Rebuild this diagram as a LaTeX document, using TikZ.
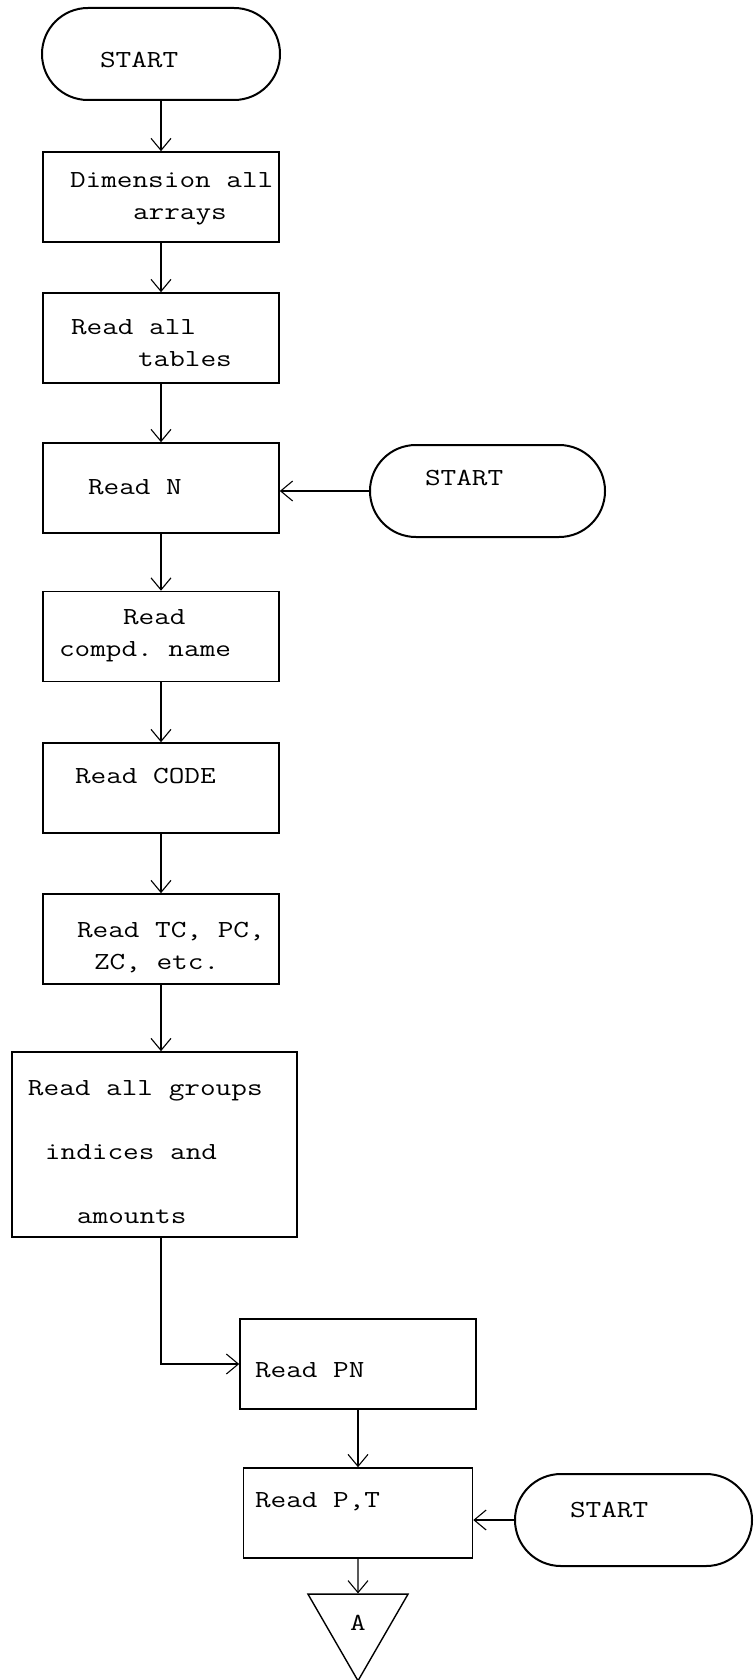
\documentclass[tikz,border=0pt]{standalone}
\usepackage{fontspec}
\setmonofont{Latin Modern Mono}[FakeStretch=1.24]
\usetikzlibrary{arrows.meta, shapes.geometric}
\newcommand{\typed}{\ttfamily\fontsize{24.5}{32}\selectfont\spaceskip=\fontcharwd\font 77\relax}
\tikzset{
  every picture/.style={x=1pt, y=-1pt, line width=1pt},
  flow/.style={draw, line width=1.6pt, inner sep=0pt, align=flush left, font=\typed},
  box/.style={flow, text width=#1, minimum height=90pt},
  box/.default=236pt,
  term/.style={flow, line width=2pt, text width=#1, minimum height=92pt, rounded corners=45.9pt},
  term/.default=236pt,
  arrow/.style={-{Straight Barb[length=12pt, width=20pt]}, line width=1.1pt},
}
\begin{document}
\begin{tikzpicture}
  \useasboundingbox (0,0) rectangle (755,1680);
  \node[term=238pt, text height=28pt, text depth=0pt] (go) at (161,54) {\hspace*{58pt}START};
  \node[box, text height=0pt, text depth=18pt] (dim) at (161,197) {\hspace*{27pt}Dimension all\\\hspace*{90pt}arrays};
  \node[box, text height=0pt, text depth=8pt] (tab) at (161,338) {\hspace*{28pt}Read all\\\hspace*{95pt}tables};
  \node[box, text height=12pt, text depth=0pt] (rdn) at (161,488) {\hspace*{45pt}Read N};
  \node[term=235pt, text height=0pt, text depth=12pt] (goN) at (487.5,491) {\hspace*{55pt}START};
  \node[box, text height=0pt, text depth=25pt] (cmp) at (161,636.5) {\hspace*{80pt}Read\\\hspace*{16pt}compd. name};
  \node[box, text height=0pt, text depth=10pt] (code) at (161,788) {\hspace*{32pt}Read CODE};
  \node[box, text height=0pt, text depth=4pt] (tc) at (161,939) {\hspace*{34pt}Read TC, PC,\\\hspace*{51pt}ZC, etc.};
  % groups box is wider and sits off the column
  \node[box=285pt, minimum height=185pt, text height=0pt, text depth=99pt] (grp) at (154.5,1144.5)
    {\hspace*{16pt}Read all groups\\[32pt]\hspace*{33pt}indices and\\[32pt]\hspace*{65pt}amounts};
  \node[box, text height=26pt, text depth=0pt] (pn) at (358,1364) {\hspace*{15pt}Read PN};
  \node[box=229pt, text height=0pt, text depth=12pt] (pt) at (358,1513) {\hspace*{11.5pt}Read P,T};
  \node[term=237pt, text height=0pt, text depth=6pt] (goP) at (633.5,1520) {\hspace*{55pt}START};
  \node[flow, line width=1.4pt, regular polygon, regular polygon sides=3, shape border rotate=180,
    minimum size=115.5pt] (conA) at (358,1623) {A};
  \foreach \a/\b in {go/dim, dim/tab, tab/rdn, rdn/cmp, cmp/code, code/tc, pn/pt}
    \draw[arrow] (\a.south) -- (\b.north);
  \draw[arrow] (tc.south) -- (tc.south |- grp.north);
  \draw[arrow] (tc.south |- grp.south) |- (pn.west);
  \draw[arrow] (pt.south) -- (conA.north);
  \draw[arrow] (goN.west) -- (goN.west -| rdn.east);
  \draw[arrow] (goP.west) -- (goP.west -| pt.east);
\end{tikzpicture}
\end{document}
